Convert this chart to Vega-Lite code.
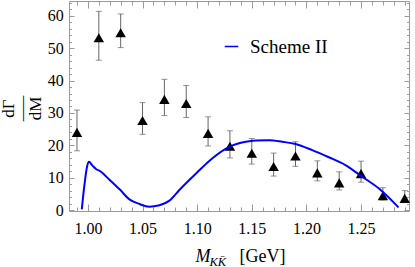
{
  "$schema": "https://vega.github.io/schema/vega-lite/v6.json",
  "width": 340,
  "height": 210,
  "autosize": {"type": "none"},
  "padding": {"left": 69, "top": 1, "right": 6, "bottom": 56},
  "config": {
    "font": "Liberation Serif",
    "view": {"stroke": "#9a9a9a", "strokeWidth": 1},
    "axis": {
      "domain": false,
      "grid": false,
      "tickColor": "#9a9a9a",
      "tickWidth": 1,
      "labelColor": "#000000",
      "labelFont": "Liberation Serif",
      "labelFontSize": 16,
      "labelOverlap": false,
      "labelFlush": false,
      "titleColor": "#000000",
      "titleFont": "Liberation Serif",
      "titleFontWeight": "normal"
    }
  },
  "datasets": {
    "pts": [
      {"x": 0.99, "y": 24.6, "lo": 18.3, "hi": 30.9},
      {"x": 1.01, "y": 53.85, "lo": 46.3, "hi": 61.4},
      {"x": 1.03, "y": 55.4, "lo": 50.2, "hi": 60.6},
      {"x": 1.05, "y": 28.3, "lo": 23.4, "hi": 33.2},
      {"x": 1.07, "y": 34.8, "lo": 29.2, "hi": 40.4},
      {"x": 1.09, "y": 33.55, "lo": 28.6, "hi": 38.5},
      {"x": 1.11, "y": 24.3, "lo": 19.8, "hi": 28.8},
      {"x": 1.13, "y": 20.3, "lo": 16.1, "hi": 24.5},
      {"x": 1.15, "y": 18.15, "lo": 14.2, "hi": 22.1},
      {"x": 1.17, "y": 14.05, "lo": 10.5, "hi": 17.6},
      {"x": 1.19, "y": 17.3, "lo": 13.5, "hi": 21.1},
      {"x": 1.21, "y": 12.1, "lo": 9.0, "hi": 15.2},
      {"x": 1.23, "y": 9.0, "lo": 6.2, "hi": 11.8},
      {"x": 1.25, "y": 11.85, "lo": 8.6, "hi": 15.1},
      {"x": 1.27, "y": 5.0, "lo": 3.1, "hi": 6.9},
      {"x": 1.29, "y": 4.2, "lo": 2.4, "hi": 6.0}
    ],
    "curve": [
      {"x": 0.9944, "y": 0.2},
      {"x": 0.997, "y": 8.2},
      {"x": 0.9993, "y": 13.5},
      {"x": 1.001, "y": 14.9},
      {"x": 1.004, "y": 13.8},
      {"x": 1.0077, "y": 12.6},
      {"x": 1.0108, "y": 12.1},
      {"x": 1.0199, "y": 9.3},
      {"x": 1.029, "y": 6.4},
      {"x": 1.038, "y": 3.3},
      {"x": 1.0472, "y": 1.85},
      {"x": 1.056, "y": 1.0},
      {"x": 1.0655, "y": 1.45},
      {"x": 1.0746, "y": 2.9},
      {"x": 1.0837, "y": 6.2},
      {"x": 1.099, "y": 11.3},
      {"x": 1.114, "y": 16.0},
      {"x": 1.1293, "y": 19.5},
      {"x": 1.1445, "y": 21.1},
      {"x": 1.1536, "y": 21.5},
      {"x": 1.1658, "y": 21.6},
      {"x": 1.178, "y": 21.1},
      {"x": 1.19, "y": 20.4},
      {"x": 1.2053, "y": 18.5},
      {"x": 1.2205, "y": 16.3},
      {"x": 1.2357, "y": 13.9},
      {"x": 1.251, "y": 10.3},
      {"x": 1.2661, "y": 6.7},
      {"x": 1.2843, "y": 0.8}
    ]
  },
  "layer": [
    {
      "data": {"name": "pts"},
      "mark": {"type": "errorbar", "color": "#666666", "thickness": 1, "ticks": {"size": 6, "color": "#666666"}},
      "encoding": {
        "x": {
          "field": "x", "type": "quantitative",
          "scale": {"domain": [0.9827, 1.2939], "nice": false, "zero": false},
          "axis": {
            "orient": "bottom",
            "values": [1.0, 1.05, 1.1, 1.15, 1.2, 1.25],
            "format": ".2f",
            "tickSize": -7,
            "labelPadding": 16.7,
            "title": "M",
            "titleFontStyle": "italic",
            "titleFontSize": 18,
            "titleAlign": "left",
            "titleBaseline": "alphabetic",
            "titleX": 126,
            "titleY": 50.7
          }
        },
        "y": {
          "field": "lo", "type": "quantitative",
          "scale": {"domain": [-0.3, 64.6], "nice": false, "zero": false},
          "axis": {
            "orient": "left",
            "values": [0, 10, 20, 30, 40, 50, 60],
            "tickSize": -5,
            "labelPadding": 10.7,
            "title": ["dΓ", "—–", "dM"],
            "titleFontSize": 17,
            "titleLineHeight": 13.5,
            "titleAngle": -90,
            "titleAlign": "center",
            "titleBaseline": "alphabetic",
            "titleX": -56,
            "titleY": 107
          }
        },
        "y2": {"field": "hi"}
      }
    },
    {
      "data": {"name": "pts"},
      "mark": {"type": "point", "shape": "M0,-0.49L1,1.24L-1,1.24Z", "filled": true, "color": "#000000", "size": 110, "opacity": 1, "strokeWidth": 0},
      "encoding": {
        "x": {
          "field": "x", "type": "quantitative",
          "axis": {
            "orient": "bottom",
            "values": [0.99, 1.0, 1.01, 1.02, 1.03, 1.04, 1.05, 1.06, 1.07, 1.08, 1.09, 1.1, 1.11, 1.12, 1.13, 1.14, 1.15, 1.16, 1.17, 1.18, 1.19, 1.2, 1.21, 1.22, 1.23, 1.24, 1.25, 1.26, 1.27, 1.28, 1.29],
            "tickSize": -4,
            "labels": false,
            "title": "KK̄",
            "titleFontStyle": "italic",
            "titleFontSize": 12.5,
            "titleAlign": "left",
            "titleBaseline": "alphabetic",
            "titleX": 140,
            "titleY": 54
          }
        },
        "y": {
          "field": "y", "type": "quantitative",
          "axis": {
            "orient": "left",
            "values": [0, 2, 4, 6, 8, 10, 12, 14, 16, 18, 20, 22, 24, 26, 28, 30, 32, 34, 36, 38, 40, 42, 44, 46, 48, 50, 52, 54, 56, 58, 60, 62, 64],
            "tickSize": -2.5,
            "labels": false,
            "title": null
          }
        }
      }
    },
    {
      "data": {"name": "curve"},
      "mark": {"type": "line", "strokeWidth": 2, "interpolate": "monotone"},
      "encoding": {
        "x": {
          "field": "x", "type": "quantitative",
          "axis": {
            "orient": "top",
            "values": [1.0, 1.05, 1.1, 1.15, 1.2, 1.25],
            "tickSize": -7,
            "labels": false,
            "title": "[GeV]",
            "titleFontSize": 18,
            "titleAlign": "left",
            "titleBaseline": "alphabetic",
            "titleX": 170,
            "titleY": 260.7
          }
        },
        "y": {
          "field": "y", "type": "quantitative",
          "axis": {
            "orient": "right",
            "values": [0, 10, 20, 30, 40, 50, 60],
            "tickSize": -5,
            "labels": false,
            "title": null
          }
        },
        "color": {
          "datum": "Scheme II",
          "type": "nominal",
          "scale": {"range": ["#0000ff"]},
          "legend": {
            "orient": "none",
            "legendX": 153,
            "legendY": 36,
            "title": null,
            "padding": 0,
            "symbolType": "stroke",
            "symbolSize": 185,
            "symbolStrokeWidth": 1.5,
            "labelFont": "Liberation Serif",
            "labelFontSize": 19,
            "labelColor": "#000000",
            "labelOffset": 9
          }
        }
      }
    },
    {
      "data": {"name": "pts"},
      "mark": {"type": "point", "opacity": 0},
      "encoding": {
        "x": {
          "field": "x", "type": "quantitative",
          "axis": {
            "orient": "top",
            "values": [0.99, 1.0, 1.01, 1.02, 1.03, 1.04, 1.05, 1.06, 1.07, 1.08, 1.09, 1.1, 1.11, 1.12, 1.13, 1.14, 1.15, 1.16, 1.17, 1.18, 1.19, 1.2, 1.21, 1.22, 1.23, 1.24, 1.25, 1.26, 1.27, 1.28, 1.29],
            "tickSize": -4,
            "labels": false,
            "title": null
          }
        },
        "y": {
          "field": "y", "type": "quantitative",
          "axis": {
            "orient": "right",
            "values": [0, 2, 4, 6, 8, 10, 12, 14, 16, 18, 20, 22, 24, 26, 28, 30, 32, 34, 36, 38, 40, 42, 44, 46, 48, 50, 52, 54, 56, 58, 60, 62, 64],
            "tickSize": -2.5,
            "labels": false,
            "title": null
          }
        }
      }
    }
  ],
  "resolve": {"axis": {"x": "independent", "y": "independent"}}
}
